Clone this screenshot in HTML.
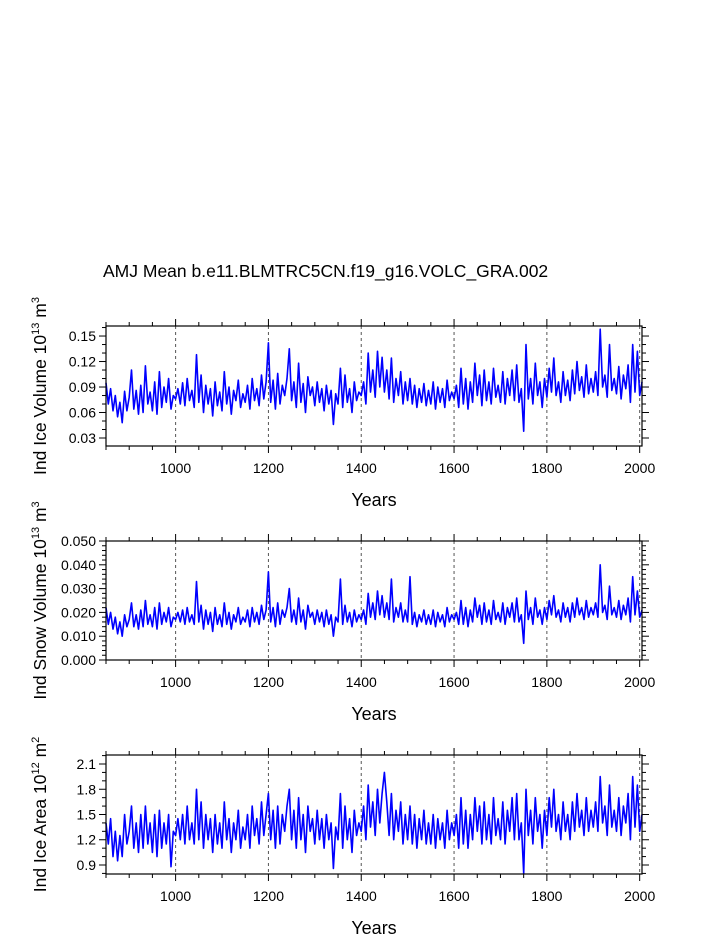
<!DOCTYPE html>
<html><head><meta charset="utf-8"><style>
body{margin:0;background:#fff}
svg{display:block;font-family:"Liberation Sans",Arial,sans-serif}
</style></head><body>
<svg id="chart" width="723" height="935" xmlns="http://www.w3.org/2000/svg">
<text x="103" y="277" font-size="17.5">AMJ Mean b.e11.BLMTRC5CN.f19_g16.VOLC_GRA.002</text>
</svg>
<script>
const startYear = 850, stepYears = 5;
const xTickLabels = [1000,1200,1400,1600,1800,2000];
const iceVolume = [95,70,88,62,80,55,72,48,85,62,
78,110,64,86,58,92,60,115,70,84,
62,96,58,108,66,90,72,100,64,80,
76,88,70,95,68,100,74,86,66,128,
72,104,60,92,70,88,56,96,68,84,
62,108,70,90,58,86,74,98,66,82,
72,92,64,100,74,88,68,104,76,96,
142,72,98,64,106,70,92,80,100,135,
74,96,66,118,72,94,60,102,80,90,
68,96,72,88,62,92,70,86,46,82,
70,112,66,104,72,88,60,96,74,84,
80,96,70,130,84,110,78,132,90,125,
84,110,76,124,72,100,80,108,70,96,
74,100,70,92,66,88,72,94,68,86,
70,96,64,90,72,88,66,98,74,84,
76,92,66,112,70,100,64,96,72,118,
80,104,68,110,74,96,70,112,78,92,
72,108,70,100,80,110,74,116,72,88,
38,140,76,100,70,118,80,96,66,100,
78,112,84,124,80,96,72,108,80,98,
74,110,82,120,86,102,78,116,82,100,
84,108,80,158,90,104,78,140,86,100,
82,114,76,104,88,116,72,140,84,132,
80,96];
const snowVolume = [220,150,200,130,180,110,160,100,190,140,
170,240,140,190,130,210,140,250,150,190,
140,220,130,240,150,200,160,220,140,180,
170,200,160,210,150,220,160,190,150,330,
160,230,130,210,150,200,120,220,150,190,
140,240,150,200,130,190,160,220,150,180,
160,210,140,220,160,200,150,230,170,210,
370,160,220,140,240,150,210,180,220,300,
160,210,150,260,160,210,130,230,180,200,
150,210,160,200,140,210,150,190,100,180,
160,340,150,230,160,200,140,210,160,190,
170,210,150,280,180,240,170,290,190,270,
180,240,170,340,160,220,180,240,160,210,
160,350,150,200,140,190,160,210,150,190,
150,210,140,200,160,190,140,220,160,190,
170,200,150,250,150,220,140,210,160,260,
180,230,150,240,160,210,150,250,170,200,
160,240,150,220,180,240,160,260,160,190,
70,290,170,220,150,260,180,210,150,220,
170,250,190,270,180,210,160,240,180,220,
160,240,180,260,190,220,170,250,180,220,
190,240,180,400,200,230,170,310,190,220,
180,250,170,230,190,260,160,350,190,290,
180,210];
const iceArea = [140,115,145,100,130,95,125,100,150,115,
130,160,110,140,105,150,110,160,115,140,
105,150,100,155,110,140,115,150,88,130,
125,145,120,150,115,160,120,140,115,180,
120,165,110,150,120,145,105,150,115,140,
110,165,120,145,105,140,120,155,110,135,
120,150,110,160,125,145,115,165,125,150,
175,120,155,110,160,115,150,130,160,180,
120,155,110,170,120,150,105,160,130,145,
115,155,120,145,110,150,120,140,86,135,
120,175,110,160,120,145,105,155,125,140,
130,160,120,185,135,165,125,180,140,175,
200,165,125,175,120,155,130,165,115,150,
120,160,115,150,110,145,120,155,115,140,
115,150,110,145,120,140,110,155,120,140,
125,150,110,170,115,155,110,150,120,170,
130,160,115,165,120,150,115,170,125,145,
120,165,115,155,130,170,120,175,120,140,
80,180,125,155,115,170,130,150,110,155,
125,170,135,180,130,150,120,165,130,150,
120,165,130,175,135,155,125,170,130,155,
135,165,130,195,140,160,125,185,135,155,
130,170,125,160,140,175,120,195,135,185,
130,150];
const iceTicks = ["0.03","0.06","0.09","0.12","0.15"];
const snowTicks = ["0.000","0.010","0.020","0.030","0.040","0.050"];
const areaTicks = ["0.9","1.2","1.5","1.8","2.1"];

const NS="http://www.w3.org/2000/svg";
const svg=document.getElementById('chart');
function mk(tag,attrs,parent){const e=document.createElementNS(NS,tag);for(const k in attrs)e.setAttribute(k,attrs[k]);(parent||svg).appendChild(e);return e;}
const X0=106,X1=642,YR0=850,YR1=2005;
const xs=y=>X0+(y-YR0)/(YR1-YR0)*(X1-X0);

const panels=[
 {top:326,bot:446,min:0.0206,max:0.1618,data:iceVolume,scale:0.001,ticks:iceTicks,minor:0.01,name:"ice-volume",title:["Ind Ice Volume 10","13"," m","3"]},
 {top:541,bot:660,min:0,max:0.05,data:snowVolume,scale:0.0001,ticks:snowTicks,minor:0.002,name:"snow-volume",title:["Ind Snow Volume 10","13"," m","3"]},
 {top:755,bot:874,min:0.793,max:2.207,data:iceArea,scale:0.01,ticks:areaTicks,minor:0.1,name:"ice-area",title:["Ind Ice Area 10","12"," m","2"]}
];
panels.forEach(p=>{
 const g=mk('g',{});
 
 
 const ys=v=>p.bot-(v-p.min)/(p.max-p.min)*(p.bot-p.top);
 xTickLabels.forEach(t=>{const l=mk('line',{x1:xs(t),x2:xs(t),y1:p.top,y2:p.bot,stroke:'#555','stroke-width':1,'stroke-dasharray':'3,3'},g);
  });
 let d='';
 p.data.forEach((v,i)=>{const yr=startYear+i*stepYears;d+=(i?'L':'M')+xs(yr).toFixed(1)+','+ys(v*p.scale).toFixed(1);});
 const path=mk('path',{d:d,fill:'none',stroke:'#0000ff','stroke-width':1.6,'stroke-linejoin':'round'},g);
 
 
 const fr=mk('rect',{x:X0,y:p.top,width:X1-X0,height:p.bot-p.top,fill:'none',stroke:'#000','stroke-width':1.2},g);
 
 for(let yr=850;yr<=2000;yr+=50){const maj=yr%200===0;const L=maj?7:4;
  mk('line',{x1:xs(yr),x2:xs(yr),y1:p.bot,y2:p.bot+L,stroke:'#000','stroke-width':1},g);
  mk('line',{x1:xs(yr),x2:xs(yr),y1:p.top,y2:p.top-L,stroke:'#000','stroke-width':1},g);}
 xTickLabels.forEach(t=>{const tx=mk('text',{x:xs(t),y:p.bot+27,'font-size':14,'text-anchor':'middle'},g);tx.textContent=t;
  });
 const xt=mk('text',{x:374,y:p.bot+60,'font-size':18,'text-anchor':'middle'},g);xt.textContent='Years';
 
 const tv=p.ticks.map(Number);
 for(let v=Math.ceil(p.min/p.minor-1e-6)*p.minor;v<=p.max+1e-9;v+=p.minor){
  const y=ys(v);const maj=tv.some(t=>Math.abs(t-v)<p.minor/10);const L=maj?7:4;
  mk('line',{x1:X0,x2:X0-L,y1:y,y2:y,stroke:'#000','stroke-width':1},g);
  mk('line',{x1:X1,x2:X1+L,y1:y,y2:y,stroke:'#000','stroke-width':1},g);}
 p.ticks.forEach(t=>{const tx=mk('text',{x:X0-10,y:ys(Number(t))+5,'font-size':14,'text-anchor':'end'},g);tx.textContent=t;
  });
 const cy=(p.top+p.bot)/2;
 const yt=mk('text',{x:0,y:0,'font-size':17.5,'text-anchor':'middle',transform:'translate(46,'+cy+') rotate(-90)'},g);
 
 p.title.forEach((s,i)=>{const ts=mk('tspan',{},yt);ts.textContent=s;
  if(i%2===1){ts.setAttribute('font-size','11');ts.setAttribute('dy','-7');}
  else if(i>0){ts.setAttribute('dy','7');}});
});
</script>
</body></html>
